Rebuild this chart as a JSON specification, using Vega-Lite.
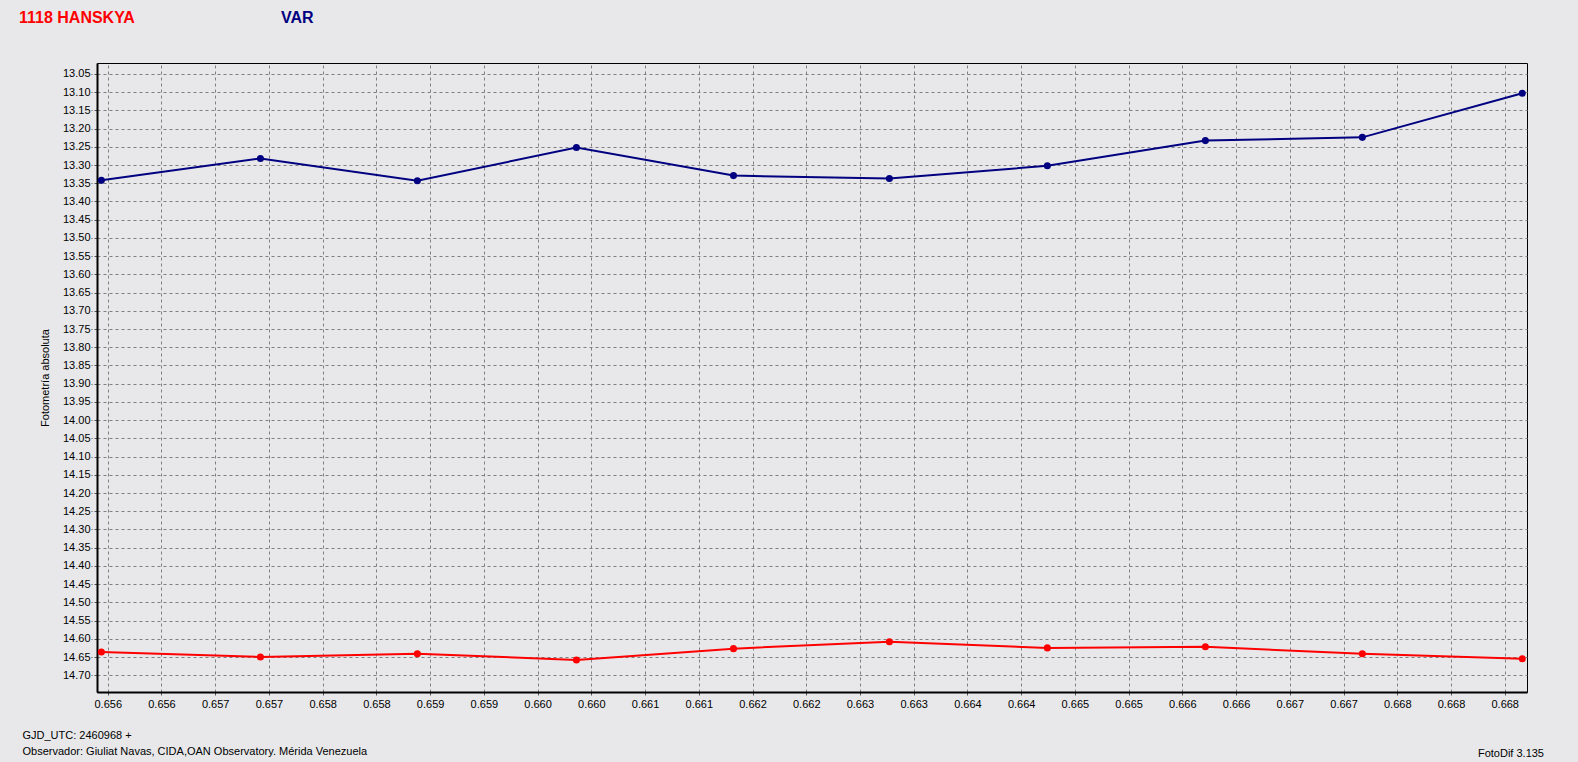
{
  "$schema": "https://vega.github.io/schema/vega-lite/v6.json",
  "width": 1430,
  "height": 629,
  "autosize": "none",
  "padding": {"left": 97, "top": 63, "right": 51, "bottom": 70},
  "background": "#e8e8ea",
  "title": {
    "text": "FotoDif 3.135",
    "orient": "bottom",
    "anchor": "end",
    "frame": "group",
    "dx": 17,
    "offset": -9,
    "font": "Liberation Sans",
    "fontSize": 11,
    "fontWeight": "normal",
    "color": "#000"
  },
  "data": {
    "values": [
      {"series": "VAR", "t": 0.655943, "mag": 13.342},
      {"series": "VAR", "t": 0.657364, "mag": 13.282},
      {"series": "VAR", "t": 0.658766, "mag": 13.343},
      {"series": "VAR", "t": 0.660187, "mag": 13.252},
      {"series": "VAR", "t": 0.661590, "mag": 13.329},
      {"series": "VAR", "t": 0.662983, "mag": 13.337},
      {"series": "VAR", "t": 0.664394, "mag": 13.302},
      {"series": "VAR", "t": 0.665806, "mag": 13.233},
      {"series": "VAR", "t": 0.667208, "mag": 13.224},
      {"series": "VAR", "t": 0.668637, "mag": 13.103},
      {"series": "1118 HANSKYA", "t": 0.655943, "mag": 14.636},
      {"series": "1118 HANSKYA", "t": 0.657364, "mag": 14.650},
      {"series": "1118 HANSKYA", "t": 0.658766, "mag": 14.641},
      {"series": "1118 HANSKYA", "t": 0.660187, "mag": 14.658},
      {"series": "1118 HANSKYA", "t": 0.661590, "mag": 14.627},
      {"series": "1118 HANSKYA", "t": 0.662983, "mag": 14.608},
      {"series": "1118 HANSKYA", "t": 0.664394, "mag": 14.625},
      {"series": "1118 HANSKYA", "t": 0.665806, "mag": 14.622},
      {"series": "1118 HANSKYA", "t": 0.667208, "mag": 14.641},
      {"series": "1118 HANSKYA", "t": 0.668637, "mag": 14.655}
    ]
  },
  "encoding": {
    "x": {
      "field": "t",
      "type": "quantitative",
      "scale": {"domain": [0.655904, 0.668679], "nice": false, "zero": false},
      "axis": {
        "values": [0.656, 0.65648, 0.65696, 0.65744, 0.65792, 0.6584, 0.65888, 0.65936, 0.65984, 0.66032, 0.6608, 0.66128, 0.66176, 0.66224, 0.66272, 0.6632, 0.66368, 0.66416, 0.66464, 0.66512, 0.6656, 0.66608, 0.66656, 0.66704, 0.66752, 0.668, 0.66848],
        "format": ".3f",
        "labelFlush": false,
        "labelOverlap": false,
        "tickSize": 4,
        "labelPadding": 2,
        "title": ["GJD_UTC: 2460968 +", "Observador: Giuliat Navas, CIDA,OAN Observatory. Mérida Venezuela"],
        "titleAnchor": "start",
        "titleAlign": "left",
        "titleBaseline": "top",
        "titleX": -75,
        "titleY": 37,
        "titleLineHeight": 16.5,
        "titleFontWeight": "normal",
        "titleFontSize": 11
      }
    },
    "y": {
      "field": "mag",
      "type": "quantitative",
      "scale": {"domain": [13.02, 14.746], "reverse": true, "nice": false, "zero": false},
      "axis": {
        "values": [13.05, 13.1, 13.15, 13.2, 13.25, 13.3, 13.35, 13.4, 13.45, 13.5, 13.55, 13.6, 13.65, 13.7, 13.75, 13.8, 13.85, 13.9, 13.95, 14.0, 14.05, 14.1, 14.15, 14.2, 14.25, 14.3, 14.35, 14.4, 14.45, 14.5, 14.55, 14.6, 14.65, 14.7],
        "format": ".2f",
        "labelOverlap": false,
        "labelFlush": false,
        "tickSize": 6,
        "labelPadding": 1,
        "title": "Fotometría absoluta",
        "titleFontWeight": "normal",
        "titleFontSize": 11,
        "titlePadding": 12
      }
    },
    "color": {
      "field": "series",
      "type": "nominal",
      "scale": {"domain": ["1118 HANSKYA", "VAR"], "range": ["#ff0000", "#000080"]},
      "legend": {
        "title": null,
        "orient": "none",
        "legendX": -94,
        "legendY": -53,
        "direction": "horizontal",
        "symbolSize": 0,
        "symbolOpacity": 0,
        "symbolStrokeWidth": 0,
        "labelOffset": 0,
        "labelFont": "Liberation Sans",
        "labelFontSize": 16,
        "labelFontWeight": "bold",
        "labelLimit": 0,
        "columnPadding": 130,
        "encode": {
          "labels": {"update": {"fill": {"signal": "datum.value === 'VAR' ? '#000080' : '#ff0000'"}}}
        }
      }
    }
  },
  "layer": [
    {"mark": {"type": "line", "strokeWidth": 2}},
    {"mark": {"type": "point", "filled": true, "shape": "circle", "size": 50, "opacity": 1}}
  ],
  "config": {
    "view": {"stroke": "#000", "strokeWidth": 1, "fill": "#e8e8ea"},
    "axis": {
      "labelFont": "Liberation Sans",
      "labelFontSize": 11,
      "labelColor": "#000",
      "titleFont": "Liberation Sans",
      "titleColor": "#000",
      "domainColor": "#000",
      "domainWidth": 2,
      "tickColor": "#555",
      "tickDash": [3, 2],
      "gridColor": "#808080",
      "gridDash": [3, 3],
      "gridWidth": 1,
      "gridOpacity": 1
    }
  }
}
